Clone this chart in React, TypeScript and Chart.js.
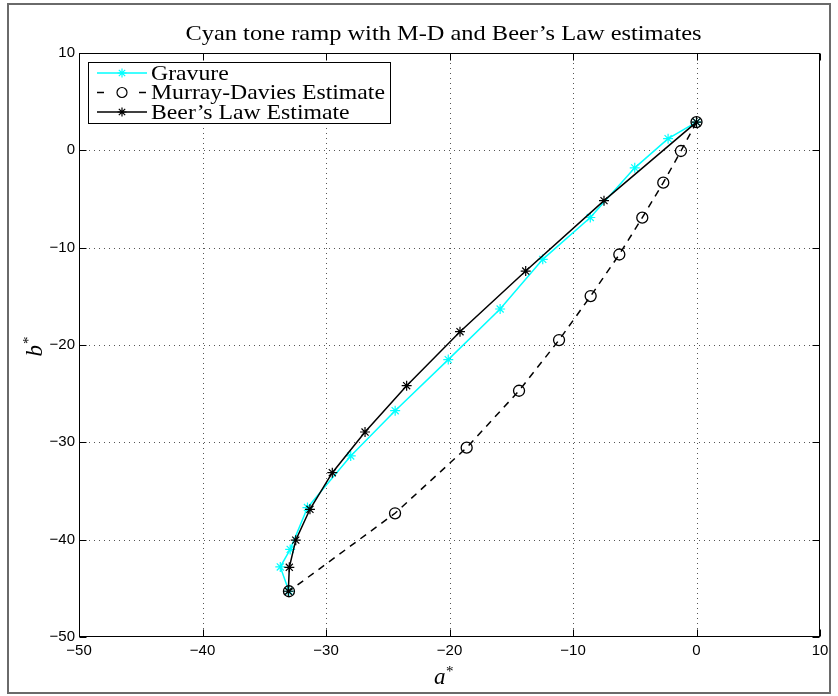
import React, { useEffect, useRef } from 'react';
import { Chart, registerables } from 'chart.js';

Chart.register(...registerables);

// ---- data ----
const gravureA = [0, -2.3, -5.0, -8.6, -12.45, -15.9, -20.1, -24.4, -28.0, -31.5, -32.9, -33.7, -33.0];
const gravureB = [2.9, 1.2, -1.8, -6.9, -11.2, -16.3, -21.5, -26.75, -31.4, -36.7, -41.0, -42.8, -45.3];
const mdA = [0, -1.26, -2.69, -4.39, -6.25, -8.57, -11.13, -14.37, -18.61, -24.41, -33.0];
const mdB = [2.9, -0.07, -3.32, -6.92, -10.7, -14.97, -19.49, -24.7, -30.55, -37.29, -45.3];
const beerA = [0, -7.49, -13.83, -19.15, -23.47, -26.84, -29.49, -31.3, -32.45, -32.97, -33.05];
const beerB = [2.9, -5.17, -12.4, -18.63, -24.18, -28.94, -33.12, -36.88, -40.05, -42.84, -45.3];
const xTicks = [-50, -40, -30, -20, -10, 0, 10];
const yTicks = [-50, -40, -30, -20, -10, 0, 10];
const seriesNames = ['Gravure', 'Murray-Davies Estimate', 'Beer\u2019s Law Estimate'];
const titleText = 'Cyan tone ramp with M-D and Beer\u2019s Law estimates';

const toPoints = (xs: number[], ys: number[]) => xs.map((v, i) => ({ x: v, y: ys[i] }));
const fmt = (v: number) => (v < 0 ? '\u2212' + Math.abs(v) : String(v));

const CYAN = '#00FFFF';
const BLACK = '#000000';

function drawStar(ctx: CanvasRenderingContext2D, x: number, y: number, r: number) {
  const d = r * Math.SQRT1_2;
  ctx.beginPath();
  ctx.moveTo(x - r, y); ctx.lineTo(x + r, y);
  ctx.moveTo(x, y - r); ctx.lineTo(x, y + r);
  ctx.moveTo(x - d, y - d); ctx.lineTo(x + d, y + d);
  ctx.moveTo(x - d, y + d); ctx.lineTo(x + d, y - d);
  ctx.stroke();
}

function line(ctx: CanvasRenderingContext2D, x1: number, y1: number, x2: number, y2: number) {
  ctx.beginPath();
  ctx.moveTo(x1, y1);
  ctx.lineTo(x2, y2);
  ctx.stroke();
}

const matlabPlugin = {
  id: 'matlabLook',
  beforeDatasetsDraw(chart: any) {
    const { ctx, chartArea: a, scales } = chart;
    const xs = scales.x, ys = scales.y;
    ctx.save();
    ctx.strokeStyle = '#555';
    ctx.lineWidth = 1;
    ctx.setLineDash([1, 4]);
    xs.ticks.forEach((t: any) => {
      const px = Math.round(xs.getPixelForValue(t.value)) + 0.5;
      if (px <= a.left + 1 || px >= a.right - 1) return;
      line(ctx, px, a.top, px, a.bottom);
    });
    ys.ticks.forEach((t: any) => {
      const py = Math.round(ys.getPixelForValue(t.value)) + 0.5;
      if (py <= a.top + 1 || py >= a.bottom - 1) return;
      line(ctx, a.left, py, a.right, py);
    });
    ctx.restore();
  },
  afterDraw(chart: any) {
    const { ctx, chartArea: a, scales } = chart;
    const xs = scales.x, ys = scales.y;
    ctx.save();
    ctx.setLineDash([]);
    // axes box
    ctx.strokeStyle = '#000';
    ctx.lineWidth = 1;
    const L = Math.round(a.left) + 0.5, R = Math.round(a.right) - 0.5;
    const T = Math.round(a.top) + 0.5, B = Math.round(a.bottom) - 0.5;
    ctx.strokeRect(L, T, R - L, B - T);
    // inward ticks
    const tl = 7;
    xs.ticks.forEach((t: any) => {
      const px = Math.round(xs.getPixelForValue(t.value)) + 0.5;
      line(ctx, px, B, px, B - tl);
      line(ctx, px, T, px, T + tl);
    });
    ys.ticks.forEach((t: any) => {
      const py = Math.round(ys.getPixelForValue(t.value)) + 0.5;
      line(ctx, L, py, L + tl, py);
      line(ctx, R, py, R - tl, py);
    });

    // legend
    const lx = 88, ly = 62, lw = 302, lh = 61;
    ctx.fillStyle = '#fff';
    ctx.fillRect(lx, ly, lw, lh);
    ctx.strokeStyle = '#000';
    ctx.lineWidth = 1;
    ctx.strokeRect(lx + 0.5, ly + 0.5, lw, lh);
    const rows = [73, 92.5, 112];
    const styles = [
      { color: CYAN, dash: [] as number[], marker: 'star' },
      { color: BLACK, dash: [7, 6], marker: 'circle' },
      { color: BLACK, dash: [] as number[], marker: 'star' },
    ];
    ctx.font = '21px "Liberation Serif"';
    const target = 234;
    const measured = ctx.measureText(seriesNames[1]).width;
    const sx = target / measured;
    rows.forEach((ry, i) => {
      const s = styles[i];
      ctx.strokeStyle = s.color;
      ctx.lineWidth = 1.5;
      ctx.setLineDash(s.dash);
      if (s.dash.length) {
        line(ctx, 97, ry, 105, ry);
        line(ctx, 139, ry, 147, ry);
      } else {
        line(ctx, 97, ry, 147, ry);
      }
      ctx.setLineDash([]);
      ctx.lineWidth = 1.2;
      if (s.marker === 'star') drawStar(ctx, 122, ry, 4.5);
      else { ctx.beginPath(); ctx.arc(122, ry, 5, 0, Math.PI * 2); ctx.stroke(); }
      ctx.save();
      ctx.fillStyle = '#000';
      ctx.textBaseline = 'middle';
      ctx.textAlign = 'left';
      ctx.translate(151, ry + 1);
      ctx.scale(sx, 1);
      ctx.fillText(seriesNames[i], 0, 0);
      ctx.restore();
    });

    // title
    ctx.save();
    ctx.font = '22px "Liberation Serif"';
    ctx.fillStyle = '#000';
    ctx.textBaseline = 'alphabetic';
    ctx.textAlign = 'center';
    const tw = ctx.measureText(titleText).width;
    const tsx = 516 / tw;
    ctx.translate((a.left + a.right) / 2 - 6, 40);
    ctx.scale(tsx, 1);
    ctx.fillText(titleText, 0, 0);
    ctx.restore();

    // x label a*
    ctx.save();
    ctx.fillStyle = '#000';
    ctx.textBaseline = 'alphabetic';
    ctx.textAlign = 'left';
    ctx.font = 'italic 23px "Liberation Serif"';
    const cx = (a.left + a.right) / 2 - 4;
    const aw = ctx.measureText('a').width;
    ctx.fillText('a', cx - aw, 684);
    ctx.font = '15px "Liberation Serif"';
    ctx.fillText('*', cx + 0.5, 676);
    ctx.restore();

    // y label b*
    ctx.save();
    ctx.fillStyle = '#000';
    ctx.textBaseline = 'alphabetic';
    ctx.textAlign = 'left';
    ctx.translate(42, (a.top + a.bottom) / 2);
    ctx.rotate(-Math.PI / 2);
    ctx.font = 'italic 23px "Liberation Serif"';
    const bw = ctx.measureText('b').width;
    ctx.fillText('b', -bw, 0);
    ctx.font = '15px "Liberation Serif"';
    ctx.fillText('*', 1, -9);
    ctx.restore();

    // figure frame
    ctx.strokeStyle = '#6a6a6a';
    ctx.lineWidth = 2;
    ctx.strokeRect(8, 4, 822, 689);
    ctx.restore();
  },
};

export default function App() {
  const ref = useRef<HTMLCanvasElement | null>(null);
  useEffect(() => {
    if (!ref.current) return;
    const tickFont = { family: '"Liberation Sans", Arial, sans-serif', size: 15 };
    const chart = new Chart(ref.current, {
      type: 'scatter',
      data: {
        datasets: [
          {
            label: seriesNames[0],
            data: toPoints(gravureA, gravureB),
            showLine: true,
            borderColor: CYAN,
            backgroundColor: CYAN,
            borderWidth: 1.5,
            pointStyle: 'star',
            pointRadius: 5,
            pointBorderWidth: 1.2,
            pointBorderColor: CYAN,
            order: 2,
          },
          {
            label: seriesNames[1],
            data: toPoints(mdA, mdB),
            showLine: true,
            borderColor: BLACK,
            backgroundColor: 'rgba(0,0,0,0)',
            borderWidth: 1.5,
            borderDash: [7, 6],
            pointStyle: 'circle',
            pointRadius: 5.5,
            pointBorderWidth: 1.3,
            pointBorderColor: BLACK,
            pointBackgroundColor: 'rgba(0,0,0,0)',
            order: 1,
          },
          {
            label: seriesNames[2],
            data: toPoints(beerA, beerB),
            showLine: true,
            borderColor: BLACK,
            backgroundColor: BLACK,
            borderWidth: 1.5,
            pointStyle: 'star',
            pointRadius: 5,
            pointBorderWidth: 1.2,
            pointBorderColor: BLACK,
            order: 0,
          },
        ],
      },
      options: {
        responsive: false,
        animation: false,
        events: [],
        layout: { padding: { top: 53, right: 18, left: 0, bottom: 0 } },
        plugins: {
          legend: { display: false },
          title: { display: false },
          tooltip: { enabled: false },
        },
        scales: {
          x: {
            type: 'linear',
            min: -50,
            max: 10,
            afterBuildTicks: (s: any) => { s.ticks = xTicks.map((v) => ({ value: v })); },
            afterFit: (s: any) => { s.height = 59; },
            ticks: {
              callback: (v: any) => fmt(Number(v)),
              font: tickFont,
              color: '#000',
              padding: 5,
              maxRotation: 0,
              autoSkip: false,
            },
            grid: { display: false, drawTicks: false },
            border: { display: false },
          },
          y: {
            type: 'linear',
            min: -50,
            max: 10,
            afterBuildTicks: (s: any) => { s.ticks = yTicks.map((v) => ({ value: v })); },
            afterFit: (s: any) => { s.width = 79; },
            ticks: {
              callback: (v: any) => fmt(Number(v)),
              font: tickFont,
              color: '#000',
              padding: 4,
              autoSkip: false,
            },
            grid: { display: false, drawTicks: false },
            border: { display: false },
          },
        },
      } as any,
      plugins: [matlabPlugin],
    });
    return () => chart.destroy();
  }, []);
  return (
    <div style={{ position: 'fixed', left: 0, top: 0, width: 838, height: 696, background: '#fff' }}>
      <canvas ref={ref} width={838} height={696} style={{ display: 'block', width: 838, height: 696 }} />
    </div>
  );
}
